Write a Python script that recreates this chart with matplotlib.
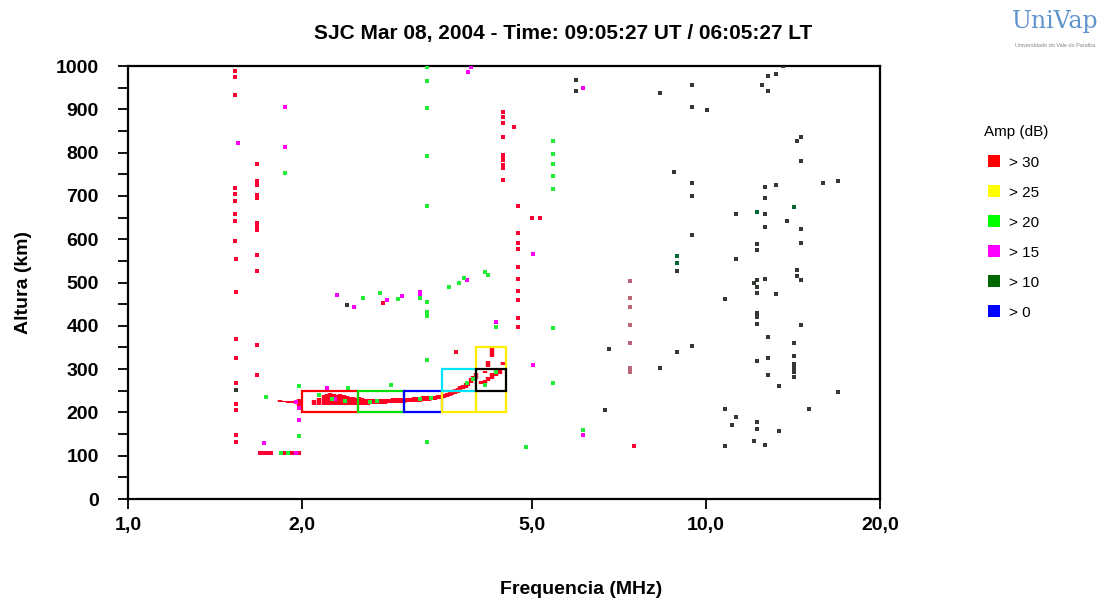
import matplotlib
matplotlib.use('Agg')
import matplotlib.pyplot as plt
from matplotlib.lines import Line2D
from matplotlib.patches import Rectangle

plt.rcParams['font.family'] = ['Liberation Sans', 'DejaVu Sans']

TITLE = 'SJC Mar 08, 2004 - Time: 09:05:27 UT / 06:05:27 LT'
x_ticks = [1.0, 2.0, 5.0, 10.0, 20.0]
x_tick_labels = ['1,0', '2,0', '5,0', '10,0', '20,0']
y_major = [0, 100, 200, 300, 400, 500, 600, 700, 800, 900, 1000]
y_minor = [50, 150, 250, 350, 450, 550, 650, 750, 850, 950]

legend_labels = ['> 30', '> 25', '> 20', '> 15', '> 10', '> 0']
legend_colors = ['#ff0000', '#ffff00', '#00ff00', '#ff00ff', '#006600', '#0000ff']

# main F-layer trace: frequency (MHz), lower / upper virtual height (km)
trace_f = [1.83, 1.86, 1.89, 1.92, 1.95, 1.98, 2.10, 2.14, 2.18, 2.21, 2.24, 2.27,
           2.30, 2.33, 2.36, 2.39, 2.42, 2.45, 2.48, 2.51, 2.54, 2.57, 2.60, 2.63,
           2.66, 2.69, 2.72, 2.75, 2.78, 2.81, 2.84, 2.87, 2.90, 2.93, 2.96, 3.00,
           3.04, 3.08, 3.12, 3.16, 3.20, 3.24, 3.28, 3.32, 3.36, 3.40, 3.44, 3.48,
           3.52, 3.56, 3.60, 3.64, 3.68, 3.72, 3.76, 3.80, 3.84, 3.88, 3.92, 3.96,
           4.00, 4.08, 4.15, 4.20, 4.27, 4.33, 4.40]
trace_lo = [224, 223, 222, 221, 220, 215, 217, 218, 216, 216, 216, 216,
            216, 216, 216, 216, 217, 217, 217, 216, 218, 218, 218, 219,
            219, 219, 219, 220, 220, 221, 221, 221, 222, 222, 222, 222,
            223, 224, 224, 225, 225, 226, 226, 227, 228, 229, 230, 231,
            233, 236, 238, 240, 243, 246, 250, 253, 257, 262, 267, 272,
            278, 266, 268, 272, 277, 283, 288]
trace_hi = [228, 227, 226, 226, 226, 230, 228, 233, 240, 242, 244, 243,
            240, 242, 240, 238, 236, 235, 234, 236, 233, 232, 231, 231,
            230, 231, 231, 232, 231, 232, 232, 233, 233, 233, 234, 233,
            234, 234, 235, 235, 236, 237, 237, 238, 238, 239, 240, 241,
            243, 245, 247, 250, 253, 256, 260, 264, 268, 273, 279, 285,
            290, 272, 276, 281, 290, 298, 300]

# upper branch near foF2
upper_f = [4.15, 4.20, 4.27, 4.46]
upper_lo = [290, 305, 328, 310]
upper_hi = [296, 318, 350, 316]

red_f = [1.53, 1.53, 1.53, 1.53, 1.53, 1.53, 1.53, 1.53, 1.53, 1.54, 1.54, 1.54,
         1.54, 1.54, 1.54, 1.54, 1.54, 1.54,
         1.67, 1.67, 1.67, 1.67, 1.67, 1.67, 1.67, 1.67, 1.67, 1.67, 1.67, 1.67,
         1.69, 1.71, 1.73, 1.75, 1.77, 1.86, 1.92, 1.98,
         4.46, 4.46, 4.46, 4.46, 4.46, 4.46, 4.46, 4.46, 4.46, 4.46, 4.66,
         4.73, 4.73, 4.73, 4.73, 4.73, 4.73, 4.73, 4.73, 4.73, 4.73,
         5.00, 5.16, 3.69, 2.76, 7.51]
red_h = [989, 974, 933, 718, 704, 688, 658, 642, 596, 554, 478, 370,
         326, 268, 219, 206, 148, 132,
         774, 734, 725, 702, 695, 637, 629, 621, 563, 527, 356, 286,
         106, 106, 106, 106, 106, 106, 106, 106,
         894, 882, 868, 836, 794, 789, 783, 771, 764, 737, 859,
         677, 614, 591, 577, 536, 508, 480, 460, 418, 397,
         649, 649, 340, 453, 122]

magenta_f = [1.72, 1.98, 1.95, 2.30, 2.81, 2.98, 3.20, 3.20, 3.86, 4.33, 3.92, 3.87,
             5.02, 5.02, 6.13, 6.13, 1.87, 1.87, 2.46, 2.21, 1.55, 1.95, 1.98, 2.28]
magenta_h = [129, 182, 106, 471, 460, 469, 478, 472, 506, 409, 998, 986,
             310, 566, 148, 949, 905, 814, 443, 256, 822, 224, 210, 230]

green_f = [1.84, 1.89, 1.98, 1.73, 1.87, 1.98,
           3.29, 3.29, 3.29, 3.29, 3.29, 3.29, 3.29, 3.29, 3.29, 3.29,
           5.44, 5.44, 5.44, 5.44, 5.44, 5.44, 5.44,
           2.55, 2.73, 2.93, 3.20, 3.59, 3.74, 3.81, 4.15, 4.20, 4.33, 4.88, 6.13,
           2.40, 2.85, 2.25, 2.37, 2.62, 2.70, 3.20, 3.34, 3.86, 3.95, 4.15, 4.33, 2.14]
green_h = [106, 106, 145, 236, 754, 261,
           998, 965, 903, 792, 677, 455, 432, 423, 321, 132,
           827, 797, 774, 746, 716, 395, 268,
           464, 476, 462, 464, 490, 499, 510, 524, 517, 397, 120, 159,
           256, 263, 232, 226, 225, 227, 231, 233, 268, 278, 263, 293, 240]

dkgreen_f = [12.25, 14.20, 8.91, 8.91]
dkgreen_h = [663, 674, 561, 545]

dark_f = [13.59, 13.22, 12.81, 12.50, 12.81, 9.46, 8.32, 9.46, 10.04, 14.60, 14.37,
          14.60, 8.80, 9.46, 9.46, 12.65, 13.22, 15.94, 16.92, 12.65, 11.27, 12.65,
          13.81, 12.65, 14.60, 9.46, 12.25, 12.25, 14.60, 8.91, 11.27, 14.37, 14.37,
          14.60, 12.65, 12.25, 12.11, 12.25, 12.25, 13.22, 10.79, 12.25, 12.25, 12.25,
          14.60, 12.81, 14.20, 9.46, 8.91, 14.20, 12.81, 12.25, 14.20, 14.20, 14.20,
          14.20, 12.81, 13.38, 16.92, 8.32, 6.79, 6.69, 10.79, 15.08, 11.27, 11.09,
          12.25, 12.25, 13.38, 12.11, 12.65, 10.79, 1.54, 2.39, 5.95, 5.95]
dark_h = [1000, 982, 977, 956, 942, 956, 938, 905, 898, 836, 827,
          781, 755, 730, 700, 721, 725, 730, 734, 695, 658, 658,
          642, 628, 623, 610, 589, 575, 591, 527, 554, 529, 515,
          506, 508, 506, 499, 490, 476, 473, 462, 430, 420, 404,
          402, 374, 360, 353, 339, 330, 326, 319, 312, 303, 293,
          282, 286, 261, 247, 303, 346, 206, 208, 208, 189, 171,
          178, 162, 157, 134, 125, 122, 251, 448, 968, 942]

faint_f = [7.39, 7.39, 7.39, 7.39, 7.39, 7.39, 7.39]
faint_h = [503, 464, 443, 402, 360, 303, 293]

# scaled-parameter boxes: (f start, f end, h start, h end, colour)
box_f0 = [2.0, 2.5, 3.0, 3.5, 3.5, 4.0, 4.0]
box_f1 = [2.5, 3.0, 3.5, 4.0, 4.0, 4.5, 4.5]
box_h0 = [200, 200, 200, 200, 250, 200, 250]
box_h1 = [250, 250, 250, 250, 300, 350, 300]
box_colors = ['#ff0000', '#00dd00', '#0000ff', '#ffee00', '#00e5ff', '#ffee00', '#000000']

fig = plt.figure(figsize=(11.19, 6.04), dpi=100)
ax = fig.add_axes([0.1144, 0.1738, 0.6720, 0.7169])

ax.vlines(trace_f, trace_lo, trace_hi, color='#ff0022', lw=3.2, zorder=3)
ax.vlines(upper_f, upper_lo, upper_hi, color='#ff0022', lw=3.2, zorder=3)
ax.plot(faint_f, faint_h, 's', color='#b86678', ms=2.4, mew=0, zorder=3)
ax.plot(dark_f, dark_h, 's', color='#333833', ms=2.4, mew=0, zorder=3)
ax.plot(dkgreen_f, dkgreen_h, 's', color='#006633', ms=3, mew=0, zorder=3)
ax.plot(red_f, red_h, 's', color='#ff0033', ms=3.2, mew=0, zorder=4)
ax.plot(magenta_f, magenta_h, 's', color='#ff00ff', ms=3, mew=0, zorder=4)
ax.plot(green_f, green_h, 's', color='#22ee33', ms=3, mew=0, zorder=5)

for f0, f1, h0, h1, c in zip(box_f0, box_f1, box_h0, box_h1, box_colors):
    ax.add_patch(Rectangle((f0, h0), f1 - f0, h1 - h0, fill=False, edgecolor=c,
                           lw=1.6, zorder=6))

ax.set_xscale('log')
ax.set_xlim(1.0, 20.0)
ax.set_ylim(0, 1000)
ax.set_xticks(x_ticks)
ax.set_xticklabels(x_tick_labels)
ax.xaxis.set_minor_locator(matplotlib.ticker.NullLocator())
ax.set_yticks(y_major)
ax.set_yticks(y_minor, minor=True)
ax.tick_params(axis='both', which='both', direction='out', length=7, width=1.3)
ax.tick_params(axis='x', pad=6)
ax.tick_params(axis='y', pad=14)
for lab in ax.get_xticklabels() + ax.get_yticklabels():
    lab.set_fontweight('bold')
    lab.set_fontsize(14)
for s in ax.spines.values():
    s.set_linewidth(1.6)

ax.set_ylabel('Altura (km)', fontsize=14, fontweight='bold', labelpad=17)
fig.text(0.519, 0.024, 'Frequencia (MHz)', ha='center', va='center',
         fontsize=14, fontweight='bold')
fig.text(0.503, 0.945, TITLE, ha='center', va='center', fontsize=15, fontweight='bold')

handles = [Line2D([], [], marker='s', ls='', color=c, ms=8, mew=0) for c in legend_colors]
leg = fig.legend(handles, legend_labels, title='Amp (dB)', loc='upper left',
                 bbox_to_anchor=(0.867, 0.815), frameon=False, fontsize=11,
                 title_fontsize=11, labelspacing=1.05, handletextpad=0.35,
                 handlelength=1.3, alignment='left')

# logo
fig.text(0.943, 0.965, 'UniVap', ha='center', va='center', fontsize=17,
         color='#5f93cc', family='DejaVu Serif')
fig.text(0.943, 0.925, 'Universidade do Vale do Paraíba', ha='center', va='center',
         fontsize=4, color='#888888')

fig.savefig('out.png', dpi=100)
